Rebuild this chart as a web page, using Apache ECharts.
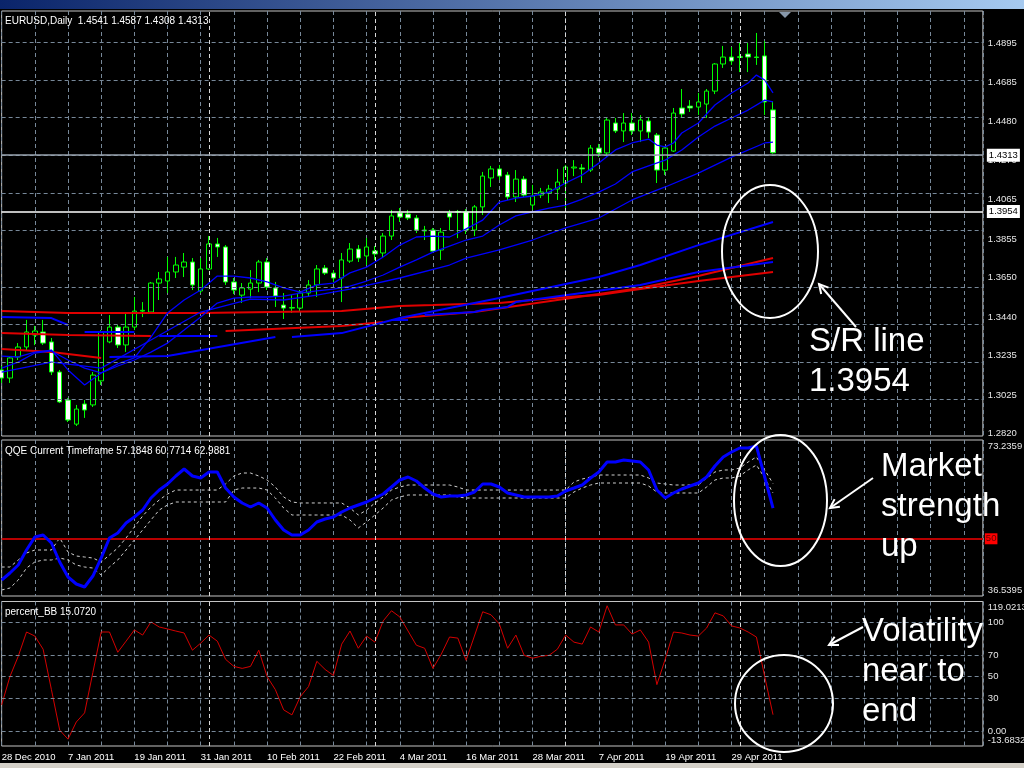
<!DOCTYPE html>
<html><head><meta charset="utf-8">
<script src="https://cdn.jsdelivr.net/npm/echarts@6/dist/echarts.min.js"></script>
<style>html,body{margin:0;padding:0;background:#000;}#c{width:1024px;height:768px;}</style>
</head><body><div id="c"></div>
<script>
// ---------------- data ----------------
const symbolName = 'EURUSD,Daily';
const dateLabels = ['28 Dec 2010','7 Jan 2011','19 Jan 2011','31 Jan 2011','10 Feb 2011','22 Feb 2011','4 Mar 2011','16 Mar 2011','28 Mar 2011','7 Apr 2011','19 Apr 2011','29 Apr 2011'];
const labelEvery = 8;
const monthStarts = [25, 45, 68, 89];
const priceTicks = [1.4895,1.4685,1.4480,1.4270,1.4065,1.3855,1.3650,1.3440,1.3235,1.3025,1.2820];
const priceTickLabels = ['1.4895','1.4685','1.4480','1.4270','1.4065','1.3855','1.3650','1.3440','1.3235','1.3025','1.2820'];
const srLevel = 1.3954;
// [open, high, low, close]
const ohlc = [
[1.3158,1.3180,1.3089,1.3115],[1.3115,1.3232,1.3089,1.3222],[1.3227,1.3301,1.3211,1.3280],[1.3280,1.3424,1.3264,1.3360],
[1.3344,1.3392,1.3290,1.3365],[1.3360,1.3424,1.3291,1.3301],[1.3307,1.3328,1.3131,1.3147],[1.3147,1.3158,1.2982,1.2988],
[1.2998,1.3009,1.2881,1.2892],[1.2870,1.2972,1.2860,1.2950],[1.2977,1.2998,1.2903,1.2945],[1.2972,1.3147,1.2961,1.3131],
[1.3100,1.3370,1.3078,1.3360],[1.3307,1.3450,1.3300,1.3386],[1.3386,1.3397,1.3275,1.3291],[1.3291,1.3466,1.3254,1.3386],
[1.3386,1.3546,1.3370,1.3471],[1.3471,1.3519,1.3439,1.3475],[1.3466,1.3626,1.3461,1.3620],[1.3620,1.3679,1.3530,1.3642],
[1.3631,1.3759,1.3567,1.3679],[1.3679,1.3759,1.3647,1.3716],[1.3705,1.3780,1.3652,1.3732],[1.3732,1.3753,1.3583,1.3610],
[1.3578,1.3753,1.3567,1.3695],[1.3695,1.3870,1.3689,1.3828],[1.3828,1.3860,1.3759,1.3812],[1.3812,1.3822,1.3610,1.3626],
[1.3626,1.3647,1.3562,1.3583],[1.3556,1.3620,1.3514,1.3594],[1.3588,1.3689,1.3540,1.3620],[1.3620,1.3743,1.3572,1.3732],
[1.3732,1.3753,1.3583,1.3599],[1.3594,1.3626,1.3493,1.3551],[1.3503,1.3567,1.3429,1.3487],[1.3487,1.3556,1.3461,1.3490],
[1.3487,1.3583,1.3466,1.3567],[1.3567,1.3636,1.3551,1.3610],[1.3610,1.3716,1.3546,1.3695],[1.3700,1.3716,1.3663,1.3673],
[1.3673,1.3689,1.3626,1.3647],[1.3647,1.3780,1.3519,1.3743],[1.3737,1.3833,1.3727,1.3801],[1.3801,1.3822,1.3732,1.3753],
[1.3764,1.3860,1.3716,1.3812],[1.3791,1.3817,1.3743,1.3775],[1.3780,1.3886,1.3753,1.3870],[1.3870,1.4009,1.3849,1.3977],
[1.3993,1.4019,1.3945,1.3971],[1.3987,1.4009,1.3955,1.3966],[1.3966,1.3982,1.3886,1.3902],[1.3902,1.3924,1.3849,1.3897],
[1.3902,1.3913,1.3785,1.3790],[1.3796,1.3913,1.3743,1.3891],[1.3993,1.4009,1.3902,1.3971],[1.3998,1.4009,1.3859,1.4000],
[1.3998,1.4014,1.3881,1.3902],[1.3902,1.4035,1.3870,1.4025],[1.4025,1.4211,1.3982,1.4189],[1.4179,1.4243,1.4131,1.4227],
[1.4227,1.4248,1.4168,1.4189],[1.4195,1.4211,1.4062,1.4078],[1.4078,1.4221,1.4051,1.4173],[1.4173,1.4189,1.4078,1.4088],
[1.4035,1.4142,1.4009,1.4083],[1.4088,1.4126,1.4072,1.4104],[1.4099,1.4142,1.4046,1.4120],[1.4120,1.4227,1.4062,1.4157],
[1.4152,1.4248,1.3998,1.4237],[1.4232,1.4274,1.4189,1.4237],[1.4232,1.4253,1.4152,1.4227],[1.4221,1.4354,1.4211,1.4338],
[1.4338,1.4360,1.4290,1.4312],[1.4312,1.4498,1.4290,1.4487],[1.4471,1.4498,1.4418,1.4429],[1.4429,1.4524,1.4370,1.4471],
[1.4471,1.4524,1.4407,1.4429],[1.4429,1.4513,1.4370,1.4487],[1.4482,1.4503,1.4391,1.4423],[1.4407,1.4418,1.4152,1.4221],
[1.4221,1.4344,1.4195,1.4338],[1.4322,1.4551,1.4317,1.4524],[1.4551,1.4652,1.4503,1.4519],[1.4561,1.4593,1.4530,1.4551],
[1.4556,1.4631,1.4514,1.4583],[1.4572,1.4652,1.4498,1.4641],[1.4641,1.4790,1.4625,1.4785],[1.4785,1.4881,1.4764,1.4822],
[1.4822,1.4875,1.4780,1.4801],[1.4820,1.4897,1.4742,1.4824],[1.4838,1.4897,1.4742,1.4822],[1.4822,1.4950,1.4780,1.4820],
[1.4828,1.4907,1.4514,1.4583],[1.4541,1.4587,1.4308,1.4313]
];
// moving averages, [bar, price]
const maFast = [[0,1.3232],[2,1.3227],[4,1.3253],[6,1.3264],[8,1.3158],[10,1.3078],[12,1.3142],[14,1.3190],[16,1.3222],[18,1.3333],[20,1.3461],[22,1.3530],[24,1.3583],[26,1.3657],[28,1.3657],[30,1.3647],[32,1.3626],[34,1.3594],[36,1.3572],[38,1.3610],[40,1.3620],[42,1.3674],[44,1.3705],[46,1.3759],[48,1.3822],[50,1.3865],[52,1.3870],[54,1.3865],[56,1.3908],[58,1.3955],[60,1.4051],[62,1.4072],[64,1.4083],[66,1.4104],[68,1.4152],[70,1.4195],[72,1.4258],[74,1.4328],[76,1.4365],[78,1.4386],[79,1.4354],[80,1.4344],[81,1.4365],[82,1.4418],[84,1.4471],[86,1.4567],[88,1.4631],[90,1.4684],[91,1.4726],[92,1.4700],[93,1.4631]];
const maMid = [[0,1.3168],[2,1.3200],[4,1.3248],[6,1.3259],[8,1.3211],[10,1.3168],[12,1.3142],[14,1.3179],[16,1.3211],[18,1.3253],[20,1.3301],[22,1.3370],[24,1.3440],[26,1.3514],[28,1.3540],[30,1.3546],[32,1.3546],[34,1.3551],[36,1.3567],[38,1.3578],[40,1.3588],[42,1.3604],[44,1.3631],[46,1.3663],[48,1.3705],[50,1.3743],[52,1.3785],[54,1.3817],[56,1.3849],[58,1.3870],[60,1.3929],[62,1.3977],[64,1.3998],[66,1.4019],[68,1.4035],[70,1.4067],[72,1.4104],[74,1.4147],[76,1.4211],[78,1.4243],[80,1.4274],[82,1.4328],[84,1.4397],[86,1.4455],[88,1.4498],[90,1.4540],[92,1.4593],[93,1.4583]];
const maSlow = [[0,1.3147],[6,1.3200],[12,1.3168],[18,1.3317],[24,1.3466],[30,1.3535],[34,1.3530],[38,1.3556],[42,1.3588],[48,1.3647],[54,1.3716],[56,1.3753],[60,1.3796],[64,1.3849],[68,1.3913],[72,1.3966],[76,1.4062],[80,1.4131],[84,1.4205],[88,1.4290],[92,1.4365],[93,1.4370]];
const longBlue1 = [[13,1.3227],[20,1.3232],[33,1.3333],[34,null],[35,1.3333],[41,1.3354],[48,1.3434],[60,1.3541],[72,1.3652],[77,1.3716],[84,1.3822],[93,1.3945]];
const longBlue2 = [[0,1.3440],[6,1.3434],[8,1.3397],[9,null],[10,1.3360],[16,1.3360],[17,null],[19,1.3338],[26,1.3338],[27,null],[47,1.3424],[49,1.3424],[50,null],[51,1.3450],[57,1.3466],[58,1.3477],[61,1.3493],[62,1.3519],[77,1.3610],[84,1.3679],[93,1.3732]];
const longRed1 = [[0,1.3471],[8,1.3461],[24,1.3461],[41,1.3471],[48,1.3498],[52,1.3503],[60,1.3514],[64,1.3530],[68,1.3546],[72,1.3556],[77,1.3588],[84,1.3631],[93,1.3679]];
const longRed2 = [[0,1.3354],[8,1.3344],[18,1.3338],[19,null],[27,1.3365],[41,1.3392],[46,1.3413],[47,null],[48,1.3434],[57,1.3466],[62,1.3498],[77,1.3594],[84,1.3658],[93,1.3753]];
const shortRed = [[0,1.3270],[6,1.3254],[12,1.3222]];
// QQE pane
const qqeRange = [36.5395, 73.2359];
const qqeLevel = 50;
const qqeMain = [40.30,41.95,43.83,47.36,50.42,50.89,49.01,44.54,41.01,39.36,38.66,41.24,45.48,50.19,51.36,53.71,55.12,56.77,59.59,61.47,62.89,64.77,66.41,64.77,64.30,65.71,65.71,61.94,59.83,58.42,57.47,58.42,57.24,54.42,52.07,50.89,50.89,52.07,53.95,54.65,55.12,56.30,57.24,57.95,58.65,59.59,60.53,62.18,63.83,64.53,63.59,61.94,60.53,59.83,60.06,60.06,60.30,61.00,62.89,62.89,62.18,60.77,60.30,59.83,59.83,59.83,59.83,60.06,61.24,61.94,62.65,64.30,65.71,68.06,68.06,68.53,68.30,68.06,66.18,61.47,59.59,60.77,61.71,62.41,63.12,64.53,67.12,69.24,70.41,71.35,71.35,71.82,64.53,57.1848];
const qqeUp = [43.36,43.36,45.01,46.65,47.36,47.36,47.36,50.19,46.89,45.95,45.71,45.48,44.54,46.18,47.83,50.19,52.77,55.36,57.47,59.12,60.53,61.47,61.47,61.47,61.47,61.47,61.47,62.89,64.77,65.47,65.47,64.77,63.83,62.18,59.83,58.65,58.42,58.42,58.42,58.42,58.42,58.42,57.24,55.59,56.77,58.42,59.83,61.47,62.18,62.65,62.65,62.65,62.65,62.65,62.65,62.18,61.47,61.47,61.47,61.47,61.47,61.47,61.47,61.47,61.47,61.47,61.47,61.47,61.47,63.36,64.06,64.53,65.00,65.00,65.00,65.00,65.00,65.00,64.30,63.12,62.89,62.65,62.65,62.65,62.65,64.30,65.71,66.18,66.18,66.65,68.06,69.24,66.18,62.9881];
const qqeDn = [37.95,38.42,40.30,43.12,44.54,45.01,45.01,45.48,45.01,43.83,43.36,43.12,41.48,43.36,45.01,47.36,49.71,52.07,54.42,56.77,57.95,58.65,58.65,58.65,58.65,58.65,58.65,58.65,61.47,61.94,61.94,61.94,61.47,59.59,57.24,55.59,55.59,55.59,55.59,55.59,55.59,55.59,54.42,52.54,53.95,55.59,57.24,59.12,59.83,60.30,60.30,60.30,60.30,60.30,60.30,59.83,59.59,59.59,59.59,59.59,59.59,59.59,59.59,59.59,59.59,59.59,59.59,59.59,59.59,61.00,61.94,62.65,63.12,63.12,63.12,63.12,63.12,63.12,62.41,61.00,60.77,60.77,60.77,60.77,60.77,62.18,63.83,64.30,64.30,64.77,66.18,67.35,64.30,60.7714];
// percent BB pane
const bbRange = [-13.6832, 119.0213];
const bbLevels = [100, 70, 50, 30, 0];
const bbLevelLabels = ['100','70','50','30','0.00'];
const percentBB = [24.1,50.1,68.7,91.0,87.3,75.2,38.1,0.9,-7.4,8.4,16.7,53.9,91.0,91.0,72.4,82.6,92.9,88.2,100.3,95.6,93.8,91.9,90.1,74.3,80.8,88.2,82.6,65.9,59.4,57.6,59.4,74.3,50.1,38.1,19.5,14.9,31.6,40.9,64.1,56.6,51.1,79.9,91.9,76.1,87.3,81.7,101.2,110.5,104.9,91.9,78.9,76.1,57.6,70.6,86.4,85.4,65.0,87.3,109.6,106.8,98.4,76.1,88.2,69.6,66.9,68.7,69.6,75.2,88.2,81.7,79.9,95.6,91.0,115.1,97.5,97.5,89.1,92.9,81.7,42.7,65.9,91.0,90.1,88.2,87.3,94.7,108.6,105.8,96.6,94.7,91.0,86.4,50.1,15.072];

// ---------------- chart ----------------
const FONT = 'Liberation Sans';
const GRIDC = '#778899';
const chart = echarts.init(document.getElementById('c'), null, {renderer: 'canvas'});
const L = 1.65, R = 41.15;
const lastBar = ohlc[ohlc.length - 1];
const idx = a => a.map((v, i) => [i, v]);
const near = (a, b) => Math.abs(a - b) < 1e-7;
const sepLines = monthStarts.map(s => ({xAxis: s, lineStyle: {color: '#d8d8d8', type: [4, 3], width: 1}}));
function helper(g, z, items) {
  return {type: 'line', xAxisIndex: g, yAxisIndex: g, data: [], z: z, silent: true, clip: false,
    markLine: {silent: true, symbol: 'none', animation: false,
      lineStyle: {color: GRIDC, type: [4, 3], width: 1},
      label: {show: false, position: 'end', distance: 5, formatter: '{b}', fontSize: 9.5, fontFamily: FONT, color: '#e6e6e6'},
      emphasis: {disabled: true}, data: items}};
}
function xa(g) {
  return {type: 'value', gridIndex: g, min: 0, max: 118.3, interval: 4,
    axisLine: {show: false}, axisTick: {show: false},
    axisLabel: g === 2 ? {show: true, color: '#ffffff', fontSize: 9.5, fontFamily: FONT, align: 'left', margin: 6,
      showMinLabel: true, showMaxLabel: false,
      formatter: v => (v % labelEvery === 0 && v / labelEvery < dateLabels.length) ? dateLabels[v / labelEvery] : ''} : {show: false},
    splitLine: {show: true, lineStyle: {color: GRIDC, type: [4, 3], width: 1}}};
}
function ya(g, min, max, values, fmt) {
  return {type: 'value', gridIndex: g, min: min, max: max, position: 'right',
    axisLine: {show: false}, axisTick: {show: false}, splitLine: {show: false},
    axisLabel: {show: true, customValues: values, showMinLabel: true, showMaxLabel: true, hideOverlap: false,
      margin: 5, color: '#e6e6e6', fontSize: 9.5, fontFamily: FONT, lineHeight: 12, formatter: fmt}};
}
function line(data, g, color, width, extra) {
  return Object.assign({type: 'line', xAxisIndex: g, yAxisIndex: g, data: data, symbol: 'none', silent: true,
    connectNulls: false, z: 4, lineStyle: {color: color, width: width}}, extra || {});
}
const gridBase = {left: L, right: R, show: true, borderColor: '#c4c4c4', borderWidth: 1, backgroundColor: '#000', outerBoundsMode: 'none', containLabel: false};
const edgeFmt = (range, inner) => v => {
  if (near(v, range[1])) return '\n' + range[1].toFixed(4);
  if (near(v, range[0])) return range[0].toFixed(4) + '\n';
  return inner ? inner(v) : '';
};
const boxLabel = {show: true, backgroundColor: '#ffffff', color: '#000000', padding: [2, 2, 1, 2], distance: 4};
const bbAxisLevels = bbLevels.filter(v => v !== 0);

const option = {
  backgroundColor: '#000',
  animation: false,
  title: [
    {text: symbolName + '  ' + lastBar.map(v => v.toFixed(4)).join(' '), left: 5, top: 15, padding: 0,
      textStyle: {color: '#fff', fontSize: 10, fontWeight: 'normal', fontFamily: FONT, lineHeight: 12}},
    {text: 'QQE Current Timeframe ' + [qqeMain[qqeMain.length-1], qqeDn[qqeDn.length-1], qqeUp[qqeUp.length-1]].map(v => v.toFixed(4)).join(' '),
      left: 5, top: 445, padding: 0, textStyle: {color: '#fff', fontSize: 10, fontWeight: 'normal', fontFamily: FONT, lineHeight: 12}},
    {text: 'percent_BB ' + percentBB[percentBB.length-1].toFixed(4), left: 5, top: 606, padding: 0,
      textStyle: {color: '#fff', fontSize: 10, fontWeight: 'normal', fontFamily: FONT, lineHeight: 12}}
  ],
  grid: [
    Object.assign({top: 11, height: 425}, gridBase),
    Object.assign({top: 440, height: 156}, gridBase),
    Object.assign({top: 601.5, height: 144.5}, gridBase)
  ],
  xAxis: [xa(0), xa(1), xa(2)],
  yAxis: [
    ya(0, 1.28068, 1.50668, priceTicks, v => { const k = priceTicks.findIndex(t => near(t, v)); return k >= 0 ? priceTickLabels[k] : ''; }),
    ya(1, qqeRange[0], qqeRange[1], [qqeRange[0], qqeRange[1]], edgeFmt(qqeRange)),
    ya(2, bbRange[0], bbRange[1], [bbRange[0]].concat(bbAxisLevels.slice().reverse(), [bbRange[1]]),
      edgeFmt(bbRange, v => { const k = bbLevels.findIndex(t => near(t, v)); return k >= 0 ? bbLevelLabels[k] : ''; }))
  ],
  series: [
    helper(0, 1, priceTicks.map(v => ({yAxis: v})).concat(sepLines)),
    {type: 'candlestick', xAxisIndex: 0, yAxisIndex: 0, z: 3, clip: false, barWidth: 5, silent: true,
      data: ohlc.map((d, i) => [i, d[0], d[3], d[2], d[1]]),
      itemStyle: {color: '#000000', color0: '#ffffff', borderColor: '#00ff00', borderColor0: '#00ff00', borderColorDoji: '#00ff00', borderWidth: 1}},
    line(shortRed, 0, '#e00000', 2),
    line(longRed1, 0, '#e00000', 2),
    line(longRed2, 0, '#e00000', 2),
    line(longBlue1, 0, '#0000ff', 2),
    line(longBlue2, 0, '#0000ff', 2),
    line(maSlow, 0, '#0000ff', 1.3),
    line(maMid, 0, '#0000ff', 1.3),
    line(maFast, 0, '#0000ff', 1.3),
    helper(0, 6, [
      {yAxis: lastBar[3], name: lastBar[3].toFixed(4), lineStyle: {color: '#9aa4b0', type: 'solid', width: 1.5}, label: boxLabel},
      {yAxis: srLevel, name: srLevel.toFixed(4), lineStyle: {color: '#ffffff', type: 'solid', width: 1.5}, label: boxLabel}
    ]),
    // QQE
    helper(1, 1, [
      {yAxis: qqeLevel, name: String(qqeLevel), lineStyle: {color: '#b80000', type: 'solid', width: 2},
        label: {show: true, backgroundColor: '#ff0000', color: '#600000', padding: [1, 1, 0, 1], distance: 2}}
    ].concat(sepLines)),
    line(idx(qqeUp), 1, '#d0d0d0', 1, {lineStyle: {color: '#d0d0d0', width: 1, type: [3, 3]}}),
    line(idx(qqeDn), 1, '#d0d0d0', 1, {lineStyle: {color: '#d0d0d0', width: 1, type: [3, 3]}}),
    line(idx(qqeMain), 1, '#0000ff', 3, {z: 5}),
    // percent BB
    helper(2, 1, bbLevels.map((v, k) => v === 0
      ? {yAxis: v, name: bbLevelLabels[k], label: {show: true, padding: [0, 0, 5, 0]}}
      : {yAxis: v}).concat(sepLines)),
    line(idx(percentBB), 2, '#d40000', 1)
  ],
  graphic: [
    {type: 'rect', silent: true, shape: {x: 0, y: 0, width: 1024, height: 9},
      style: {fill: new echarts.graphic.LinearGradient(0, 0, 1, 0, [{offset: 0, color: '#0a246a'}, {offset: 1, color: '#a6caf0'}])}},
    {type: 'rect', silent: true, shape: {x: 0, y: 763, width: 1024, height: 5}, style: {fill: '#d4d0c8'}},
    {type: 'polygon', silent: true, shape: {points: [[779, 12], [791, 12], [785, 18]]}, style: {fill: '#8898aa'}},
    // annotations
    {type: 'ellipse', silent: true, z: 100, shape: {cx: 770, cy: 251.5, rx: 48, ry: 66.5}, style: {fill: 'none', stroke: '#ffffff', lineWidth: 2}},
    {type: 'ellipse', silent: true, z: 100, shape: {cx: 780.5, cy: 500.5, rx: 46.5, ry: 65.5}, style: {fill: 'none', stroke: '#ffffff', lineWidth: 2}},
    {type: 'ellipse', silent: true, z: 100, shape: {cx: 784, cy: 703.5, rx: 49, ry: 48.5}, style: {fill: 'none', stroke: '#ffffff', lineWidth: 2}},
    {type: 'line', silent: true, z: 100, shape: {x1: 856, y1: 327, x2: 819, y2: 284}, style: {stroke: '#ffffff', lineWidth: 2}},
    {type: 'polyline', silent: true, z: 100, shape: {points: [[821.2, 294], [819, 284], [828.5, 287.6]]}, style: {stroke: '#ffffff', lineWidth: 2, fill: 'none'}},
    {type: 'line', silent: true, z: 100, shape: {x1: 873, y1: 478, x2: 830, y2: 508}, style: {stroke: '#ffffff', lineWidth: 2}},
    {type: 'polyline', silent: true, z: 100, shape: {points: [[839.9, 506.8], [830, 508], [834.6, 499.1]]}, style: {stroke: '#ffffff', lineWidth: 2, fill: 'none'}},
    {type: 'line', silent: true, z: 100, shape: {x1: 863, y1: 627, x2: 829, y2: 645}, style: {stroke: '#ffffff', lineWidth: 2}},
    {type: 'polyline', silent: true, z: 100, shape: {points: [[839, 645], [829, 645], [834.6, 636.7]]}, style: {stroke: '#ffffff', lineWidth: 2, fill: 'none'}},
    {type: 'text', silent: true, z: 100, x: 809, y: 321.6, style: {text: 'S/R line\n' + srLevel.toFixed(4), fill: '#ffffff', fontSize: 33, fontFamily: FONT, lineHeight: 40, verticalAlign: 'top'}},
    {type: 'text', silent: true, z: 100, x: 881, y: 446.6, style: {text: 'Market\nstrength\nup', fill: '#ffffff', fontSize: 33, fontFamily: FONT, lineHeight: 40, verticalAlign: 'top'}},
    {type: 'text', silent: true, z: 100, x: 862, y: 611.6, style: {text: 'Volatility\nnear to\nend', fill: '#ffffff', fontSize: 33, fontFamily: FONT, lineHeight: 40, verticalAlign: 'top'}}
  ]
};
chart.setOption(option);
</script></body></html>
